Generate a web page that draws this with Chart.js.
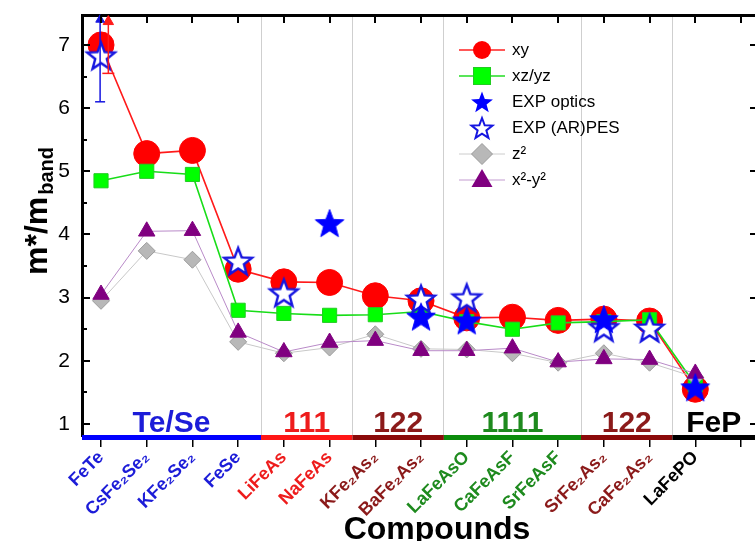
<!DOCTYPE html>
<html>
<head>
<meta charset="utf-8">
<script src="https://cdn.jsdelivr.net/npm/chart.js@4.4.1/dist/chart.umd.min.js"></script>
<style>
html,body{margin:0;padding:0;background:#fff;}
canvas{display:block;}
</style>
</head>
<body>
<canvas id="c" width="755" height="541"></canvas>
<script>
// ---------------- data ----------------
const compounds = ['FeTe','CsFe₂Se₂','KFe₂Se₂','FeSe','LiFeAs','NaFeAs','KFe₂As₂','BaFe₂As₂','LaFeAsO','CaFeAsF','SrFeAsF','SrFe₂As₂','CaFe₂As₂','LaFePO'];
const groupNames = ['Te/Se','111','122','1111','122','FeP'];
const groupFirst = [0,4,6,8,11,13];
const groupLast  = [3,5,7,10,12,13];
const groupTextColors = ['#1c1cd8','#ee1c1c','#8b1a1a','#1e8a1e','#8b1a1a','#000000'];
const groupBarColors  = ['#0000ff','#ff1616','#8b0a0a','#0c8c0c','#8b0a0a','#000000'];

const xyVals   = [7.00,5.28,5.33,3.45,3.25,3.24,3.03,2.95,2.68,2.69,2.64,2.66,2.63,1.55];
const xzVals   = [4.85,5.00,4.95,2.80,2.75,2.72,2.73,2.78,2.62,2.50,2.60,2.62,2.65,1.62];
const optVals  = [null,null,null,null,null,4.18,null,2.70,2.64,null,null,2.66,null,1.58];
const arpesVals= [6.83,null,null,3.58,3.08,null,null,2.98,3.00,null,null,2.53,2.52,null];
const z2Vals   = [2.95,3.74,3.60,2.30,2.12,2.21,2.42,2.19,2.18,2.12,1.97,2.12,1.97,1.74];
const x2y2Vals = [3.05,4.05,4.06,2.45,2.14,2.29,2.32,2.16,2.16,2.20,1.98,2.03,2.02,1.80];

// FeTe error bars (lower end, arrow end)
const feTeArpesErr = [6.10, 7.40];
const feTeXyErr    = [6.55, 7.37];

const yTickVals = [1,2,3,4,5,6,7];
const yMinorVals = [1.5,2.5,3.5,4.5,5.5,6.5];

// ---------------- helpers ----------------
const FONT = '"Liberation Sans", Arial, Helvetica, sans-serif';
const X_MIN = -0.416, X_MAX = 14.306, Y_MIN = 0.81, Y_MAX = 7.474;

function groupOf(i){ for (let g=0; g<groupFirst.length; g++) if (i>=groupFirst[g] && i<=groupLast[g]) return g; return -1; }
function pts(vals, dx){ const out=[]; vals.forEach((v,i)=>{ if(v!=null) out.push({x:i+(dx||0), y:v}); }); return out; }
const separators = groupFirst.slice(1).map((f,g)=> (groupLast[g]+f)/2);

function starPath(g, cx, cy, R, r){
  g.beginPath();
  for (let k=0;k<10;k++){
    const a = -Math.PI/2 + k*Math.PI/5;
    const rr = (k%2) ? r : R;
    const px = cx + rr*Math.cos(a), py = cy + rr*Math.sin(a);
    if (k) g.lineTo(px,py); else g.moveTo(px,py);
  }
  g.closePath();
}
function makeStar(R, fill, stroke, lw){
  const S = Math.ceil(2*R + 2*lw + 2);
  const c = document.createElement('canvas'); c.width=S; c.height=S;
  const g = c.getContext('2d');
  starPath(g, S/2, S/2 + R*0.095, R, R*0.42);
  g.fillStyle = fill; g.fill();
  if (lw){ g.lineWidth=lw; g.strokeStyle=stroke; g.stroke(); }
  return c;
}
function makeIcon(lineColor, lineW, drawMarker){
  const c = document.createElement('canvas'); c.width=50; c.height=30;
  const g = c.getContext('2d');
  if (lineColor){ g.strokeStyle=lineColor; g.lineWidth=lineW; g.beginPath(); g.moveTo(2,15); g.lineTo(48,15); g.stroke(); }
  drawMarker(g, 25, 15);
  return c;
}

const starFilled = makeStar(15, '#0000ff', '#0000ff', 1);
const starOpen   = makeStar(14.5, '#ffffff', '#1515e0', 2.4);

const icons = [
  makeIcon('#ff2020', 1.6, (g,x,y)=>{ g.beginPath(); g.arc(x,y,9,0,Math.PI*2); g.fillStyle='#ff0000'; g.fill(); }),
  makeIcon('#22dd22', 1.6, (g,x,y)=>{ g.fillStyle='#00ff00'; g.fillRect(x-8.5,y-8.5,17,17); g.strokeStyle='#22cc22'; g.lineWidth=1; g.strokeRect(x-8.5,y-8.5,17,17); }),
  makeIcon(null, 0, (g,x,y)=>{ starPath(g,x,y+1,11.5,4.8); g.fillStyle='#0000ff'; g.fill(); }),
  makeIcon(null, 0, (g,x,y)=>{ starPath(g,x,y+1,11,4.6); g.fillStyle='#fff'; g.fill(); g.strokeStyle='#1515e0'; g.lineWidth=2; g.stroke(); }),
  makeIcon('#cccccc', 1, (g,x,y)=>{ g.beginPath(); g.moveTo(x,y-10.5); g.lineTo(x+10.5,y); g.lineTo(x,y+10.5); g.lineTo(x-10.5,y); g.closePath(); g.fillStyle='#b8b8b8'; g.fill(); g.strokeStyle='#9a9a9a'; g.lineWidth=1; g.stroke(); }),
  makeIcon('#c39bd0', 1, (g,x,y)=>{ g.beginPath(); g.moveTo(x,y-11); g.lineTo(x+10.5,y+7); g.lineTo(x-10.5,y+7); g.closePath(); g.fillStyle='#800080'; g.fill(); })
];

// ---------------- datasets ----------------
const datasets = [
  { label:'xy', data:pts(xyVals), borderColor:'#ff1a1a', borderWidth:1.6, pointStyle:'circle', pointRadius:13,
    pointBackgroundColor:'#ff0000', pointBorderColor:'#ff0000', pointBorderWidth:1, order:6 },
  { label:'xz/yz', data:pts(xzVals), borderColor:'#18dd18', borderWidth:1.6, pointStyle:'rect', pointRadius:10,
    pointBackgroundColor:'#00ff00', pointBorderColor:'#22cc22', pointBorderWidth:1, order:5 },
  { label:'EXP optics', data:pts(optVals), showLine:false, pointStyle:starFilled, pointRadius:15, order:1 },
  { label:'EXP (AR)PES', data:pts(arpesVals), showLine:false, pointStyle:starOpen, pointRadius:15, order:2 },
  { label:'z²', data:pts(z2Vals), borderColor:'#c8c8c8', borderWidth:1, pointStyle:'rectRot', pointRadius:8.5,
    pointBackgroundColor:'#b8b8b8', pointBorderColor:'#9a9a9a', pointBorderWidth:1, order:4 },
  { label:'x²-y²', data:pts(x2y2Vals), borderColor:'#b98ac8', borderWidth:1, pointStyle:'triangle', pointRadius:9.5,
    pointBackgroundColor:'#800080', pointBorderColor:'#800080', pointBorderWidth:1, order:3 },
  { label:'', errBar:true, data:feTeArpesErr.map(v=>({x:-0.02, y:v})), borderColor:'#1515e0', borderWidth:1.5,
    pointStyle:['line','triangle'], pointRadius:[5,5], pointBorderWidth:[1.5,1],
    pointBackgroundColor:'#1515e0', pointBorderColor:'#1515e0', clip:false, order:0 },
  { label:'', errBar:true, data:feTeXyErr.map(v=>({x:0.16, y:v})), borderColor:'#ff1a1a', borderWidth:1.5,
    pointStyle:['line','triangle'], pointRadius:[6,6], pointBorderWidth:[1.5,1],
    pointBackgroundColor:'#ff1a1a', pointBorderColor:'#ff1a1a', clip:false, order:0 }
];

// ---------------- plugins ----------------
const legendPlace = {
  id:'legendPlace',
  afterLayout(chart){
    const l = chart.legend; if (!l) return;
    const w = l.width, h = l.height;
    l.left = 451.5; l.top = 32.5; l.right = l.left + w; l.bottom = l.top + h;
  }
};

const decor = {
  id:'decor',
  afterDraw(chart){
    const ctx = chart.ctx, a = chart.chartArea, x = chart.scales.x, y = chart.scales.y;
    ctx.save();
    // group colour bar + group names
    for (let g=0; g<groupNames.length; g++){
      const x0 = g===0 ? a.left : x.getPixelForValue(separators[g-1]);
      const x1 = g===groupNames.length-1 ? a.right : x.getPixelForValue(separators[g]);
      ctx.fillStyle = groupBarColors[g];
      ctx.fillRect(x0, a.bottom-1, x1-x0, 5);
      ctx.font = 'bold 30px ' + FONT;
      ctx.textAlign = 'center'; ctx.textBaseline = 'alphabetic';
      ctx.fillStyle = groupTextColors[g];
      ctx.fillText(groupNames[g], (x0+x1)/2, a.bottom-4);
    }
    // inward ticks
    ctx.strokeStyle = '#000'; ctx.lineWidth = 2;
    ctx.beginPath();
    x.ticks.forEach(t=>{ const px = Math.round(x.getPixelForValue(t.value)); ctx.moveTo(px, a.top); ctx.lineTo(px, a.top+8); });
    yTickVals.forEach(v=>{ const py = Math.round(y.getPixelForValue(v)); ctx.moveTo(a.left, py); ctx.lineTo(a.left+8, py); ctx.moveTo(a.right-5, py); ctx.lineTo(a.right, py); });
    yMinorVals.forEach(v=>{ const py = Math.round(y.getPixelForValue(v)); ctx.moveTo(a.left, py); ctx.lineTo(a.left+5, py); });
    ctx.stroke();
    // y title  m*/m_band
    ctx.fillStyle = '#000';
    ctx.save();
    ctx.translate(47, 275);
    ctx.rotate(-Math.PI/2);
    ctx.textAlign = 'left'; ctx.textBaseline = 'alphabetic';
    ctx.font = 'bold 32px ' + FONT;
    ctx.fillText('m*/m', 0, 0);
    const w = ctx.measureText('m*/m').width;
    ctx.font = 'bold 20px ' + FONT;
    ctx.fillText('band', w + 2, 6);
    ctx.restore();
    // x title
    ctx.font = 'bold 32px ' + FONT;
    ctx.textAlign = 'center'; ctx.textBaseline = 'alphabetic';
    ctx.fillText('Compounds', 437, 539);
    ctx.restore();
  }
};

function noPadH(s){ s.paddingLeft = 0; s.paddingRight = 0; }

// ---------------- chart ----------------
new Chart(document.getElementById('c'), {
  type:'line',
  data:{ datasets },
  options:{
    responsive:false,
    animation:false,
    events:[],
    layout:{ autoPadding:false, padding:{ top:15, left:0, right:0, bottom:0 } },
    elements:{ line:{ tension:0 } },
    scales:{
      x:{
        type:'linear', position:'bottom', min:X_MIN, max:X_MAX,
        afterBuildTicks: s => { s.ticks = []; for (let i=0;i<=compounds.length;i++) s.ticks.push({value:i}); },
        afterFit: s => { s.height = 105; noPadH(s); },
        ticks:{
          autoSkip:false, maxRotation:45, minRotation:45, padding:0,
          font:{ family:FONT, size:18, weight:'bold' },
          color: c => { const g = groupOf(c.tick ? c.tick.value : c.index); return g<0 ? '#000' : groupTextColors[g]; },
          callback: v => compounds[v] || ''
        },
        grid:{ drawOnChartArea:false, drawTicks:true, tickLength:11, color:'#000', lineWidth:1.5 },
        border:{ display:false }
      },
      x2:{
        type:'linear', position:'top', min:X_MIN, max:X_MAX,
        afterBuildTicks: s => { s.ticks = separators.map(v=>({value:v})); },
        afterFit: s => { s.height = 0; noPadH(s); },
        ticks:{ display:false },
        grid:{ drawTicks:false, color:'#cfcfcf', lineWidth:1 },
        border:{ display:true, color:'#000', width:3 }
      },
      y:{
        type:'linear', position:'left', min:Y_MIN, max:Y_MAX,
        afterBuildTicks: s => { s.ticks = yTickVals.map(v=>({value:v})); },
        afterFit: s => { s.width = 82; s.paddingTop = 0; s.paddingBottom = 0; },
        ticks:{ font:{ family:FONT, size:21 }, color:'#000', padding:12 },
        grid:{ drawOnChartArea:false, drawTicks:false },
        border:{ display:true, color:'#000', width:3 }
      }
    },
    plugins:{
      tooltip:{ enabled:false },
      legend:{
        display:true, position:'chartArea', align:'start',
        labels:{
          usePointStyle:true, pointStyleWidth:43, padding:9,
          font:{ family:FONT, size:17 }, color:'#000',
          generateLabels: chart => chart.data.datasets
            .map((ds,i)=>({ ds, i }))
            .filter(o => !o.ds.errBar)
            .map(o => ({ text:o.ds.label, pointStyle:icons[o.i], fillStyle:'#000', strokeStyle:'#000', lineWidth:0,
                         hidden:false, datasetIndex:o.i, fontColor:'#000', textAlign:'left' }))
        }
      }
    }
  },
  plugins:[legendPlace, decor]
});
</script>
</body>
</html>
